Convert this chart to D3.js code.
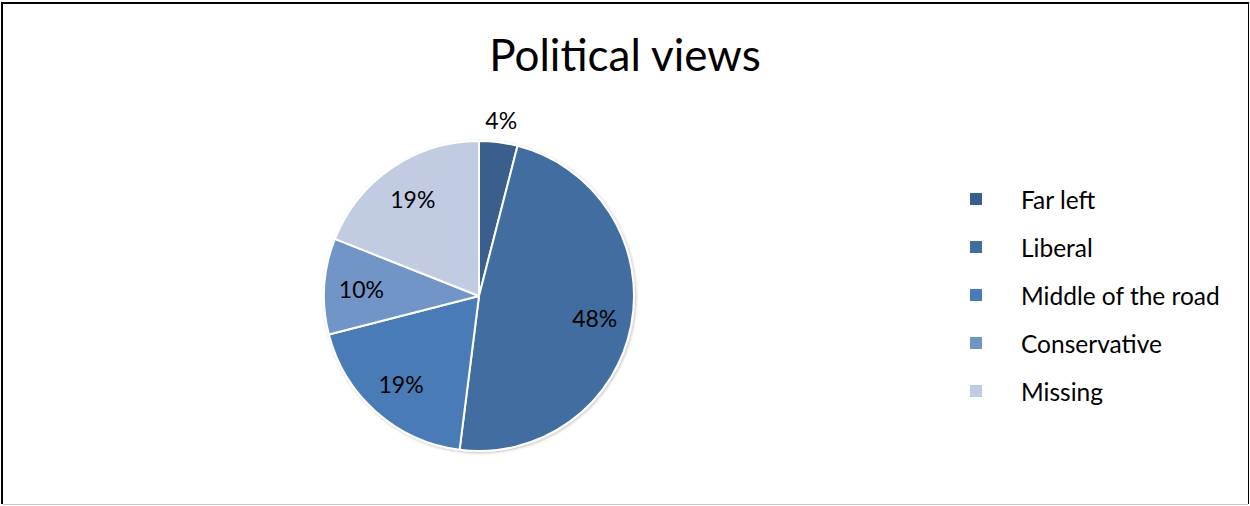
<!DOCTYPE html>
<html>
<head>
<meta charset="utf-8">
<script src="https://cdn.jsdelivr.net/npm/d3@7"></script>
<style>
  html, body { margin: 0; padding: 0; background: #fff; }
  svg { display: block; }
  text { font-family: Lato, "Liberation Sans", sans-serif; fill: #000; }
</style>
</head>
<body>
<svg id="chart" width="1250" height="506"></svg>
<script>
// Survey responses: political views (percent of respondents)
const categories = ["Far left", "Liberal", "Middle of the road", "Conservative", "Missing"];
const values = [4, 48, 19, 10, 19];
const colors = ["#3A5F8C", "#426DA1", "#4A7BB7", "#7295C7", "#C1CCE2"];
const title = "Political views";

const W = 1250, H = 506;
const svg = d3.select("#chart");

// Frame around the chart area
svg.append("line").attr("x1", 2).attr("x2", 2).attr("y1", 2).attr("y2", 504)
  .attr("stroke", "#000").attr("stroke-width", 2);
svg.append("line").attr("x1", 1).attr("x2", 1249).attr("y1", 3).attr("y2", 3)
  .attr("stroke", "#000").attr("stroke-width", 2);
svg.append("line").attr("x1", 1248.5).attr("x2", 1248.5).attr("y1", 2).attr("y2", 504)
  .attr("stroke", "#000").attr("stroke-width", 1);
svg.append("line").attr("x1", 3).attr("x2", 1248).attr("y1", 504.5).attr("y2", 504.5)
  .attr("stroke", "#c8c8c8").attr("stroke-width", 1);

// Title
svg.append("text")
  .attr("x", 625).attr("y", 71)
  .attr("text-anchor", "middle")
  .style("font-size", "44px")
  .text(title);

// Soft outer shadow for the pie
const defs = svg.append("defs");
const f = defs.append("filter").attr("id", "pieShadow")
  .attr("x", "-10%").attr("y", "-10%").attr("width", "120%").attr("height", "120%");
f.append("feGaussianBlur").attr("in", "SourceAlpha").attr("stdDeviation", 1.5).attr("result", "b");
f.append("feOffset").attr("in", "b").attr("dx", 0.5).attr("dy", 1).attr("result", "o");
f.append("feComponentTransfer").attr("in", "o").attr("result", "s")
  .append("feFuncA").attr("type", "linear").attr("slope", 0.25);
const m = f.append("feMerge");
m.append("feMergeNode").attr("in", "s");
m.append("feMergeNode").attr("in", "SourceGraphic");

const cx = 479, cy = 296, R = 155;
const color = d3.scaleOrdinal().domain(categories).range(colors);

const pie = d3.pie().sort(null).value(d => d.value)
  .startAngle(0).endAngle(2 * Math.PI);
const data = categories.map((c, i) => ({ cat: c, value: values[i] }));
const arcs = pie(data);

const arc = d3.arc().innerRadius(0).outerRadius(R);
const labelArc = d3.arc().innerRadius(R * 0.76).outerRadius(R * 0.76);
const outerArc = d3.arc().innerRadius(R + 22).outerRadius(R + 22);

const g = svg.append("g").attr("transform", `translate(${cx},${cy})`);
g.append("g").attr("filter", "url(#pieShadow)")
  .selectAll("path").data(arcs).join("path")
  .attr("d", arc)
  .attr("fill", d => color(d.data.cat))
  .attr("stroke", "#fff")
  .attr("stroke-width", 2)
  .attr("stroke-linejoin", "round");

// Percent labels: small slices sit outside the rim
const total = d3.sum(values);
g.selectAll("text.pct").data(arcs).join("text")
  .attr("class", "pct")
  .attr("transform", d => {
    const p = (d.data.value / total < 0.05 ? outerArc : labelArc).centroid(d);
    return `translate(${p[0]},${p[1]})`;
  })
  .attr("text-anchor", "middle")
  .attr("dominant-baseline", "central")
  .style("font-size", "23px")
  .text(d => d3.format(".0%")(d.data.value / total));

// Legend
const ly = d3.scalePoint().domain(categories).range([199, 391]);
const lg = svg.append("g");
const item = lg.selectAll("g").data(categories).join("g")
  .attr("transform", d => `translate(970,${ly(d)})`);
item.append("rect")
  .attr("x", 0).attr("y", -6).attr("width", 12).attr("height", 12)
  .attr("fill", d => color(d));
item.append("text")
  .attr("x", 51).attr("y", 0)
  .attr("dominant-baseline", "central")
  .style("font-size", "24.5px")
  .text(d => d);
</script>
</body>
</html>
